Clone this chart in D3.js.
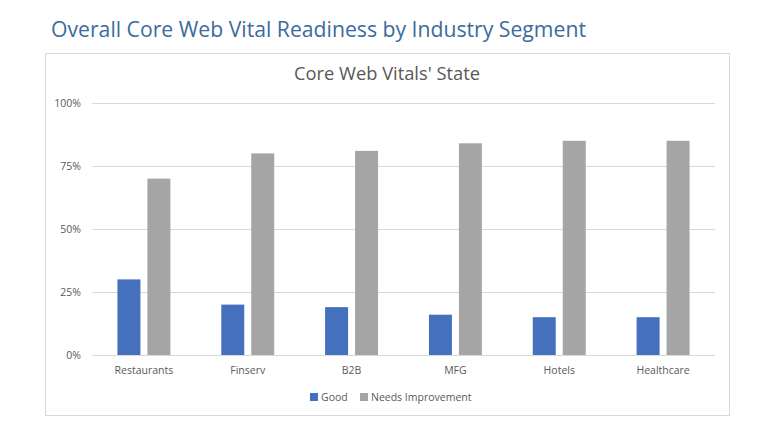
<!DOCTYPE html>
<html><head><meta charset="utf-8">
<script src="https://cdn.jsdelivr.net/npm/d3@7"></script>
<style>body{margin:0;background:#fff;}svg{display:block;}</style>
</head><body>
<svg id="c" width="769" height="429"></svg>
<script>
const categories = ["Restaurants","Finserv","B2B","MFG","Hotels","Healthcare"];
const seriesNames = ["Good","Needs Improvement"];
const good = [30,20,19,16,15,15];
const needs = [70,80,81,84,85,85];
const yTicks = [0,25,50,75,100];
const colors = ["#4570BE","#A5A5A5"];

const svg = d3.select("#c");
svg.append("text").attr("x",51).attr("y",37).attr("font-family","'Open Sans', sans-serif")
  .attr("font-size",21.2).attr("fill","#3b6c9c").text("Overall Core Web Vital Readiness by Industry Segment");
svg.append("rect").attr("x",45.5).attr("y",53.5).attr("width",684).attr("height",362)
  .attr("fill","#fff").attr("stroke","#d9d9d9");
svg.append("text").attr("x",387).attr("y",80).attr("text-anchor","middle")
  .attr("font-family","'Open Sans', sans-serif").attr("font-size",18.3).attr("fill","#595959").text("Core Web Vitals' State");

const L=92,R=715,T=103,B=355;
const x = d3.scaleBand().domain(categories).range([L,R]).paddingInner(0.49).paddingOuter(0.245);
const xs = d3.scaleBand().domain(seriesNames).range([0,x.bandwidth()]).paddingInner(0.233).paddingOuter(0);
const y = d3.scaleLinear().domain([0,100]).range([B,T]);

const g = svg.append("g");
g.selectAll("line.grid").data(yTicks).join("line").attr("class","grid")
  .attr("x1",L).attr("x2",R).attr("y1",d=>Math.round(y(d))+0.5).attr("y2",d=>Math.round(y(d))+0.5)
  .attr("stroke","#d9d9d9").attr("stroke-width",1);

const yAxis = g.append("g").attr("transform",`translate(${L},0)`)
  .call(d3.axisLeft(y).tickValues(yTicks).tickFormat(d=>d+"%").tickSize(0).tickPadding(11));
yAxis.select(".domain").remove();
yAxis.selectAll("text").attr("font-family","'Open Sans', sans-serif").attr("font-size",10.5).attr("fill","#595959");

const data = categories.map((c,i)=>({c, vals:[good[i],needs[i]]}));
const grp = g.selectAll("g.cat").data(data).join("g").attr("transform",d=>`translate(${x(d.c)},0)`);
grp.selectAll("rect").data(d=>d.vals.map((v,j)=>({s:seriesNames[j],v,j}))).join("rect")
  .attr("x",d=>xs(d.s)).attr("width",xs.bandwidth())
  .attr("y",d=>y(d.v)).attr("height",d=>B-y(d.v)).attr("fill",d=>colors[d.j]);

const xAxis = g.append("g").attr("transform",`translate(0,${B})`)
  .call(d3.axisBottom(x).tickSize(0).tickPadding(12));
xAxis.select(".domain").remove();
xAxis.selectAll("text").attr("font-family","'Open Sans', sans-serif").attr("font-size",10.5).attr("fill","#595959");

const leg = svg.append("g");
const legX = [310,360];
seriesNames.forEach((s,i)=>{
  leg.append("rect").attr("x",legX[i]).attr("y",393).attr("width",8).attr("height",8).attr("fill",colors[i]);
  leg.append("text").attr("x",legX[i]+11).attr("y",401).attr("font-family","'Open Sans', sans-serif")
    .attr("font-size",10.5).attr("fill","#595959").text(s);
});
</script>
</body></html>
